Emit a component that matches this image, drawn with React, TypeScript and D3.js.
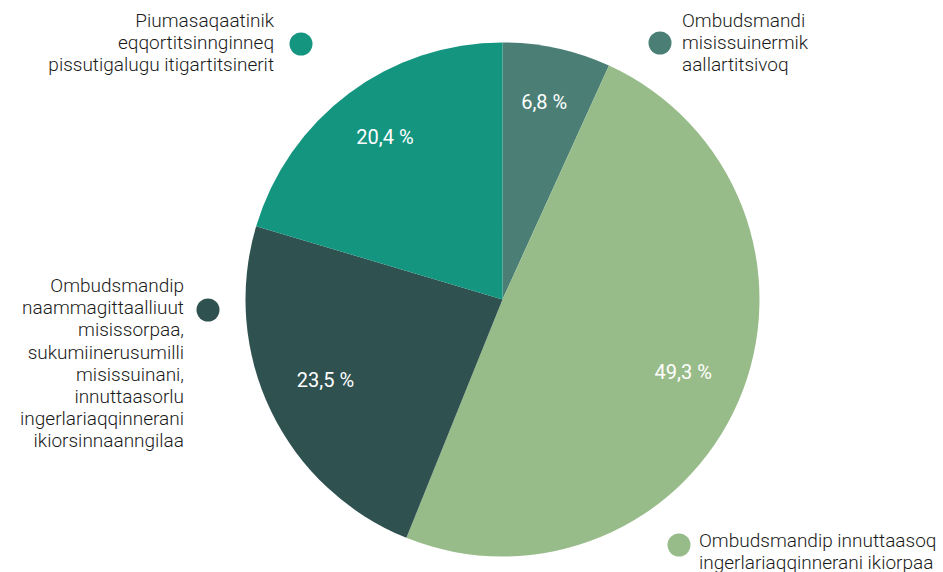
import React from "react";
import * as d3 from "d3";

const categories = [
  "Ombudsmandi misissuinermik aallartitsivoq",
  "Ombudsmandip innuttaasoq ingerlariaqqinnerani ikiorpaa",
  "Ombudsmandip naammagittaalliuut misissorpaa, sukumiinerusumilli misissuinani, innuttaasorlu ingerlariaqqinnerani ikiorsinnaanngilaa",
  "Piumasaqaatinik eqqortitsinnginneq pissutigalugu itigartitsinerit",
];
const values = [6.8, 49.3, 23.5, 20.4];
const valueLabels = ["6,8 %", "49,3 %", "23,5 %", "20,4 %"];
const labelLines = [
  ["Ombudsmandi", "misissuinermik", "aallartitsivoq"],
  ["Ombudsmandip innuttaasoq", "ingerlariaqqinnerani ikiorpaa"],
  [
    "Ombudsmandip",
    "naammagittaalliuut",
    "misissorpaa,",
    "sukumiinerusumilli",
    "misissuinani,",
    "innuttaasorlu",
    "ingerlariaqqinnerani",
    "ikiorsinnaanngilaa",
  ],
  ["Piumasaqaatinik", "eqqortitsinnginneq", "pissutigalugu itigartitsinerit"],
];
const colors = ["#4b7f76", "#98bc89", "#2f5150", "#13957f"];

// legend-callout layout: marker position, text side, first baseline
const calloutLayout = [
  { mx: 660, my: 43, side: "right", tx: 682, ty: 27 },
  { mx: 679, my: 545, side: "right", tx: 699, ty: 547 },
  { mx: 208, my: 310, side: "left", tx: 184, ty: 292 },
  { mx: 301, my: 44, side: "left", tx: 274, ty: 27 },
];

const W = 943;
const H = 572;
const cx = 502.5;
const cy = 299.5;
const R = 257;

export default function App() {
  const pie = d3
    .pie<number>()
    .sort(null)
    .value((d) => d);
  const arcs = pie(values);
  const arc = d3.arc<d3.PieArcDatum<number>>().innerRadius(0).outerRadius(R);
  const labelArc = d3
    .arc<d3.PieArcDatum<number>>()
    .innerRadius(R * 0.765)
    .outerRadius(R * 0.765);
  const font = "Roboto, 'Noto Sans', sans-serif";
  const lh = 22.2;

  return (
    <svg
      width={W}
      height={H}
      style={{ position: "absolute", left: 0, top: 0, background: "#fff" }}
    >
      <g transform={`translate(${cx},${cy})`}>
        {arcs.map((a, i) => (
          <path key={i} d={arc(a) || ""} fill={colors[i]} />
        ))}
        {arcs.map((a, i) => {
          const [x, y] = labelArc.centroid(a);
          return (
            <text
              key={"v" + i}
              x={x}
              y={y - 5}
              textAnchor="middle"
              dominantBaseline="central"
              fill="#fff"
              fontFamily={font}
              fontSize={20}
            >
              {valueLabels[i]}
            </text>
          );
        })}
      </g>
      {calloutLayout.map((c, i) => (
        <g key={"c" + i}>
          <circle cx={c.mx} cy={c.my} r={11.5} fill={colors[i]} />
          <text
            fontFamily={font}
            fontSize={19}
            fontWeight={300}
            fill="#1a1a1a"
            textAnchor={c.side === "left" ? "end" : "start"}
          >
            {labelLines[i].map((l, j) => (
              <tspan key={j} x={c.tx} y={c.ty + j * lh}>
                {l}
              </tspan>
            ))}
          </text>
        </g>
      ))}
    </svg>
  );
}
